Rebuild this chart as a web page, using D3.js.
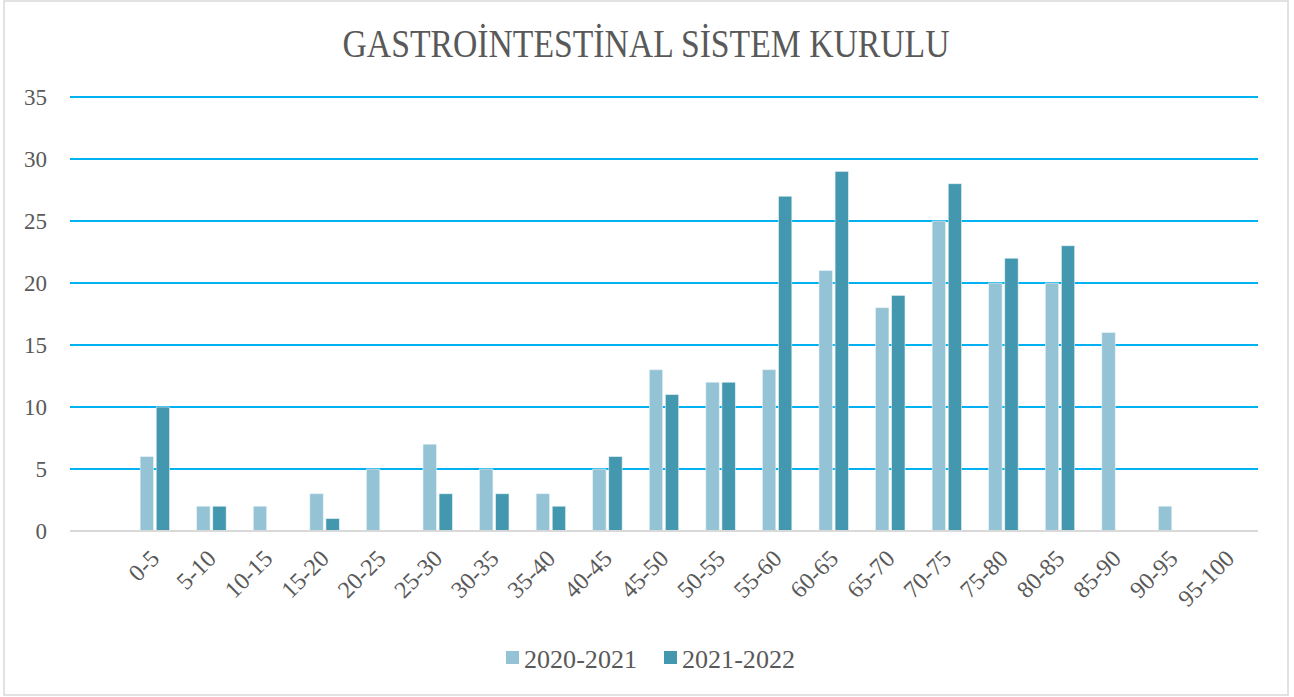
<!DOCTYPE html>
<html lang="tr">
<head>
<meta charset="UTF-8">
<title>Gastrointestinal Sistem Kurulu</title>
<script src="https://d3js.org/d3.v7.min.js"></script>
<style>
    body { margin: 0; background: #fff; overflow: hidden; }
    text { font-family: "Liberation Serif", "DejaVu Serif", serif; fill: #595959; }
</style>
</head>
<body>
<div id="chart"></div>
<script>
const categories = ["0-5", "5-10", "10-15", "15-20", "20-25", "25-30", "30-35", "35-40", "40-45", "45-50",
    "50-55", "55-60", "60-65", "65-70", "70-75", "75-80", "80-85", "85-90", "90-95", "95-100"];
const seriesNames = ["2020-2021", "2021-2022"];
const values2020 = [6, 2, 2, 3, 5, 7, 5, 3, 5, 13, 12, 13, 21, 18, 25, 20, 20, 16, 2, 0];
const values2021 = [10, 2, 0, 1, 0, 3, 3, 2, 6, 11, 12, 27, 29, 19, 28, 22, 23, 0, 0, 0];
const yTicks = [0, 5, 10, 15, 20, 25, 30, 35];
const colors = ["#94c3d5", "#4398b0"];

const width = 1294, height = 697;
const plotLeft = 70, plotRight = 1258, plotTop = 97, plotBottom = 531;

const svg = d3.select("#chart").append("svg")
    .attr("width", width).attr("height", height);

svg.append("rect")
    .attr("x", 4).attr("y", 1).attr("width", 1284).attr("height", 694)
    .attr("fill", "#fff").attr("stroke", "#d9d9d9").attr("stroke-width", 1.5);

// the excel axis keeps one empty slot before the first group
const step = (plotRight - plotLeft) / (categories.length + 1);
const x = d3.scaleBand().domain(categories).range([plotLeft + step, plotRight]).padding(0);
const x1 = d3.scaleBand().domain(seriesNames).range([-14.7, 14.7]).paddingInner(0.17);
const y = d3.scaleLinear().domain([0, 35]).range([plotBottom, plotTop]);

// gridlines
svg.append("g").selectAll("line")
    .data(yTicks.filter(d => d > 0))
    .join("line")
    .attr("x1", plotLeft).attr("x2", plotRight)
    .attr("y1", d => y(d)).attr("y2", d => y(d))
    .attr("stroke", "#00b0f0").attr("stroke-width", 2);

// y labels
svg.append("g").selectAll("text")
    .data(yTicks)
    .join("text")
    .attr("x", 47).attr("y", d => y(d) + 8)
    .attr("text-anchor", "end")
    .attr("font-size", 23)
    .text(d => d);

// bars
const series = [values2020, values2021];
seriesNames.forEach((name, si) => {
    svg.append("g").selectAll("rect")
        .data(categories.map((c, i) => ({ c, v: series[si][i] })))
        .join("rect")
        .attr("x", d => x(d.c) + x.bandwidth() / 2 + x1(name))
        .attr("width", x1.bandwidth())
        .attr("y", d => y(d.v))
        .attr("height", d => y(0) - y(d.v))
        .attr("fill", colors[si])
        .attr("stroke", "#e4f0f4").attr("stroke-width", 0.6);
});

// baseline
svg.append("line")
    .attr("x1", plotLeft).attr("x2", plotRight)
    .attr("y1", plotBottom).attr("y2", plotBottom)
    .attr("stroke", "#d9d9d9").attr("stroke-width", 2);

// category labels
svg.append("g").selectAll("text")
    .data(categories)
    .join("text")
    .attr("text-anchor", "end")
    .attr("font-size", 24)
    .attr("transform", d => `translate(${x(d) + x.bandwidth() / 2 + 6},${plotBottom + 29}) rotate(-45)`)
    .text(d => d);

// title
svg.append("text")
    .attr("x", 646).attr("y", 57)
    .attr("text-anchor", "middle")
    .attr("font-size", 40)
    .attr("textLength", 607).attr("lengthAdjust", "spacingAndGlyphs")
    .text("GASTROİNTESTİNAL SİSTEM KURULU");

// legend
const legendX = [506, 664];
seriesNames.forEach((name, i) => {
    svg.append("rect")
        .attr("x", legendX[i]).attr("y", 651)
        .attr("width", 13).attr("height", 13)
        .attr("fill", colors[i]);
    svg.append("text")
        .attr("x", legendX[i] + 18).attr("y", 668)
        .attr("font-size", 25)
        .attr("textLength", 113).attr("lengthAdjust", "spacingAndGlyphs")
        .text(name);
});
</script>
</body>
</html>
